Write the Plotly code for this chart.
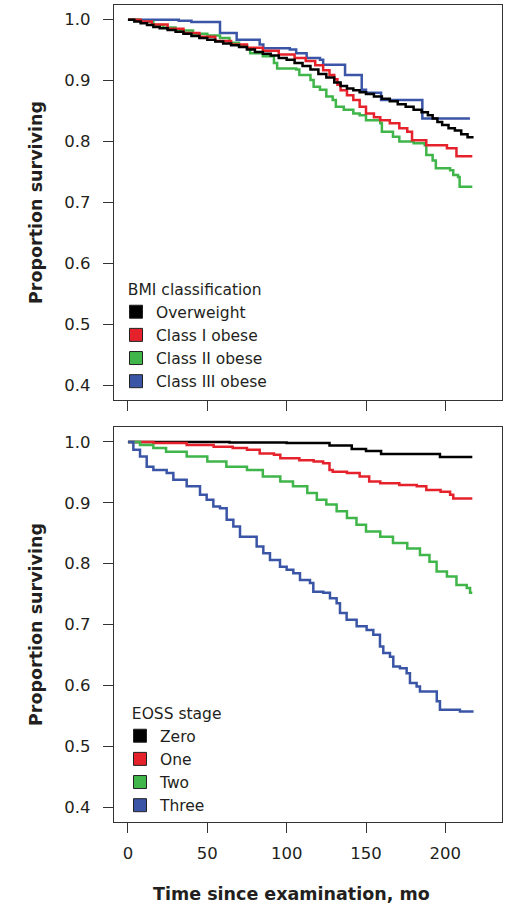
import plotly.graph_objects as go

# ---------------- data: top panel (BMI classification) ----------------
bmi_names = ["Overweight", "Class I obese", "Class II obese", "Class III obese"]
bmi_colors = ["#000000", "#e5222b", "#3fb54a", "#3a55a6"]

ow_t = [0, 4, 8, 12, 16, 20, 25, 30, 35, 40, 45, 50, 55, 60, 65, 70, 75, 80, 85, 90, 95, 100,
        105, 110, 115, 120, 125, 130, 134, 138, 142, 146, 150, 155, 160, 165, 170, 175, 180,
        185, 189, 192, 195, 198, 202, 206, 210, 214, 217]
ow_s = [1.000, 0.997, 0.994, 0.991, 0.988, 0.986, 0.983, 0.980, 0.977, 0.973, 0.970, 0.967,
        0.964, 0.961, 0.958, 0.955, 0.951, 0.947, 0.944, 0.941, 0.937, 0.934, 0.929, 0.924,
        0.918, 0.911, 0.905, 0.897, 0.891, 0.887, 0.884, 0.881, 0.878, 0.874, 0.870, 0.866,
        0.861, 0.857, 0.852, 0.848, 0.843, 0.838, 0.832, 0.827, 0.822, 0.818, 0.812, 0.807, 0.805]

c1_t = [0, 8, 15, 25, 35, 45, 55, 65, 75, 85, 95, 105, 112, 118, 123, 127, 130, 132, 134, 138,
        142, 146, 150, 155, 159, 165, 171, 176, 179, 188, 201, 207, 217]
c1_s = [1.000, 0.997, 0.992, 0.985, 0.978, 0.972, 0.965, 0.959, 0.954, 0.949, 0.943, 0.937,
        0.932, 0.925, 0.917, 0.909, 0.902, 0.893, 0.884, 0.876, 0.868, 0.857, 0.846, 0.840,
        0.835, 0.830, 0.822, 0.816, 0.802, 0.794, 0.789, 0.776, 0.776]

c2_t = [0, 8, 16, 22, 30, 41, 50, 58, 64, 70, 75, 77, 85, 92, 94, 106, 108, 115, 117, 121, 125,
        129, 131, 136, 142, 146, 150, 159, 160, 167, 171, 180, 187, 188, 192, 194, 203, 205,
        208, 209, 217]
c2_s = [1.000, 0.996, 0.991, 0.987, 0.982, 0.977, 0.974, 0.970, 0.962, 0.957, 0.953, 0.945,
        0.940, 0.929, 0.920, 0.918, 0.909, 0.901, 0.890, 0.885, 0.874, 0.868, 0.857, 0.852,
        0.846, 0.843, 0.835, 0.830, 0.816, 0.808, 0.800, 0.797, 0.794, 0.778, 0.769, 0.756,
        0.753, 0.745, 0.742, 0.726, 0.726]

c3_t = [0, 32, 40, 58, 68.5, 83, 85.3, 102, 106, 112.6, 121, 123, 136.8, 147.3, 150, 159.5,
        185.5, 215.5]
c3_s = [1.000, 0.998, 0.996, 0.978, 0.967, 0.959, 0.953, 0.951, 0.945, 0.937, 0.934, 0.926,
        0.909, 0.885, 0.880, 0.868, 0.838, 0.838]

# ---------------- data: bottom panel (EOSS stage) ----------------
eoss_names = ["Zero", "One", "Two", "Three"]
eoss_colors = ["#000000", "#e5222b", "#3fb54a", "#3a55a6"]

s0_t = [0, 64, 100, 127, 141, 150, 159.5, 196.6, 217]
s0_s = [1.000, 0.999, 0.998, 0.994, 0.9885, 0.985, 0.980, 0.975, 0.975]

s1_t = [0, 16, 37, 54, 66, 75, 83, 92, 96, 108, 117, 123, 127, 129, 138, 146, 152, 159, 171,
        182, 188, 197, 203, 205, 217]
s1_s = [1.000, 0.998, 0.995, 0.992, 0.990, 0.987, 0.981, 0.979, 0.973, 0.970, 0.968, 0.965,
        0.954, 0.951, 0.949, 0.943, 0.935, 0.932, 0.929, 0.927, 0.921, 0.918, 0.913, 0.907, 0.907]

s2_t = [0, 7.6, 16, 24, 37, 50, 62, 75, 85, 96, 104, 113, 119, 125, 131.5, 138, 144, 150, 159,
        167, 176, 184, 190, 194.5, 201, 207, 213.5, 215.6, 217]
s2_s = [1.000, 0.995, 0.990, 0.984, 0.976, 0.968, 0.959, 0.954, 0.943, 0.935, 0.927, 0.916,
        0.905, 0.897, 0.886, 0.875, 0.864, 0.853, 0.844, 0.834, 0.825, 0.814, 0.803, 0.787,
        0.779, 0.765, 0.760, 0.752, 0.752]

s3_t = [0, 3.4, 7.6, 11.8, 16, 24.4, 28.6, 37, 45.4, 49.6, 53.8, 58, 62.2, 66.4, 70.6, 81.1,
        85.3, 89.5, 95.8, 100, 104.2, 108.4, 114.7, 116.8, 123.1, 127.3, 131.5, 133.6, 137.8,
        144.1, 150.4, 154.6, 158.8, 160.9, 165.1, 167.2, 171.4, 175.6, 177.7, 181.9, 184,
        194.6, 196.6, 209.2, 217]
s3_s = [1.000, 0.987, 0.976, 0.959, 0.954, 0.949, 0.938, 0.927, 0.913, 0.905, 0.894, 0.891,
        0.872, 0.861, 0.844, 0.828, 0.817, 0.806, 0.795, 0.790, 0.784, 0.773, 0.768, 0.754,
        0.752, 0.743, 0.735, 0.719, 0.708, 0.697, 0.691, 0.683, 0.664, 0.653, 0.647, 0.631,
        0.628, 0.620, 0.604, 0.598, 0.590, 0.574, 0.560, 0.557, 0.555]

x_ticks = [0, 50, 100, 150, 200]
y_ticks = [0.4, 0.5, 0.6, 0.7, 0.8, 0.9, 1.0]
y_ticklabels = ["0.4", "0.5", "0.6", "0.7", "0.8", "0.9", "1.0"]

top_series = [(ow_t, ow_s), (c1_t, c1_s), (c2_t, c2_s), (c3_t, c3_s)]
bot_series = [(s0_t, s0_s), (s1_t, s1_s), (s2_t, s2_s), (s3_t, s3_s)]

FONT = "DejaVu Sans"
TXT = "#231f20"
W, H = 512, 906

fig = go.Figure()

top_order = [3, 2, 1, 0]
for i in top_order:
    t, s = top_series[i]
    fig.add_trace(go.Scatter(x=t, y=s, mode="lines", line=dict(color=bmi_colors[i], width=2.5, shape="hv"),
                             xaxis="x", yaxis="y", showlegend=False, hoverinfo="skip"))
for i in [0, 1, 2, 3]:
    t, s = bot_series[i]
    fig.add_trace(go.Scatter(x=t, y=s, mode="lines", line=dict(color=eoss_colors[i], width=2.5, shape="hv"),
                             xaxis="x2", yaxis="y2", showlegend=False, hoverinfo="skip"))

for name, col in zip(bmi_names, bmi_colors):
    fig.add_trace(go.Scatter(x=[None], y=[None], mode="markers", name=name,
                             marker=dict(symbol="square", size=13, color=col, line=dict(color="#222", width=1)),
                             xaxis="x", yaxis="y", legend="legend"))
for name, col in zip(eoss_names, eoss_colors):
    fig.add_trace(go.Scatter(x=[None], y=[None], mode="markers", name=name,
                             marker=dict(symbol="square", size=13, color=col, line=dict(color="#222", width=1)),
                             xaxis="x2", yaxis="y2", legend="legend2"))

xdom = [114 / W, 502 / W]
top_dom = [(H - 400) / H, (H - 5) / H]
bot_dom = [(H - 821.7) / H, (H - 427.3) / H]

axis_common = dict(showline=True, linecolor="#333", linewidth=1.4, mirror=True,
                   ticks="outside", ticklen=10, tickwidth=1.2, tickcolor="#333",
                   showgrid=False, zeroline=False,
                   tickfont=dict(family=FONT, size=16.5, color=TXT))

yaxis_common = dict(axis_common, range=[0.376, 1.024], tickvals=y_ticks, ticktext=y_ticklabels,
                    ticklabelstandoff=9, automargin=False,
                    title=dict(text="Proportion surviving", standoff=17,
                               font=dict(family=FONT, size=17.5, color=TXT, weight="bold")))

legend_common = dict(xanchor="left", yanchor="top", bgcolor="rgba(0,0,0,0)", borderwidth=0,
                     font=dict(family=FONT, size=15.5, color=TXT), itemsizing="trace", tracegroupgap=0)

fig.update_layout(
    width=W, height=H,
    margin=dict(l=0, r=0, t=0, b=0),
    paper_bgcolor="white", plot_bgcolor="white",
    xaxis=dict(axis_common, domain=xdom, range=[-8.8, 235.7], tickvals=x_ticks,
               showticklabels=False, anchor="y", automargin=False),
    yaxis=dict(yaxis_common, domain=top_dom, anchor="x"),
    xaxis2=dict(axis_common, domain=xdom, range=[-8.8, 235.7], tickvals=x_ticks,
                ticklabelstandoff=6, anchor="y2", automargin=False),
    yaxis2=dict(yaxis_common, domain=bot_dom, anchor="x2"),
    legend=dict(legend_common, x=116 / W, y=1 - 275 / H,
                title=dict(text="\u00a0\u00a0BMI classification", font=dict(family=FONT, size=15.5, color=TXT))),
    legend2=dict(legend_common, x=120 / W, y=1 - 699 / H,
                 title=dict(text="\u00a0\u00a0EOSS stage", font=dict(family=FONT, size=15.5, color=TXT))),
    annotations=[dict(text="Time since examination, mo", xref="paper", yref="paper",
                      x=291 / W, y=0.5 / H, xanchor="center", yanchor="bottom", showarrow=False,
                      font=dict(family=FONT, size=17.5, color=TXT, weight="bold"))],
)

fig.write_html("out.html")
